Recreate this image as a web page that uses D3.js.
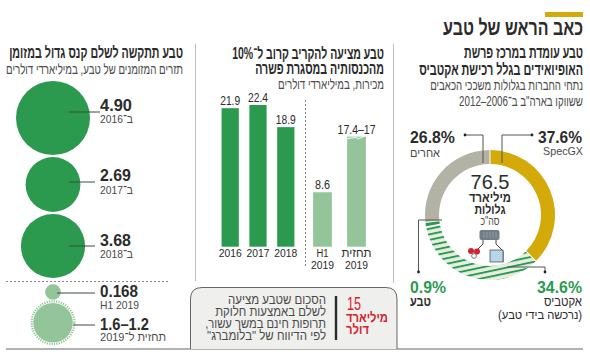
<!DOCTYPE html>
<html lang="he">
<head>
<meta charset="utf-8">
<title>כאב הראש של טבע</title>
<script src="https://d3js.org/d3.v7.min.js"></script>
<style>
  html, body { margin: 0; padding: 0; background: #fff; }
  svg { display: block; }
  text { font-family: "Liberation Sans", "DejaVu Sans", sans-serif; }
</style>
</head>
<body>
<script>
// data
var cashYears = ["ב־2016", "ב־2017", "ב־2018", "H1 2019", "תחזית ל־2019"];
var cashValues = [4.90, 2.69, 3.68, 0.168, 1.4];
var cashLabels = ["4.90", "2.69", "3.68", "0.168", "1.6–1.2"];

var salesCats = ["2016", "2017", "2018", "H1", "תחזית"];
var salesValues = [21.9, 22.4, 18.9, 8.6, 17.4];
var salesLabels = ["21.9", "22.4", "18.9", "8.6", "17.4–17"];
var salesForecastLow = 17;

var shareNames = ["SpecGX", "אקטביס", "טבע", "אחרים"];
var shareValues = [37.6, 34.6, 0.9, 26.8];

var w = 590, h = 352;
var GREEN = "#2b9a4f", LIGHT = "#93c49a", GOLD = "#d4a90a", GRAY = "#b3b3a5", INK = "#2b2b2b", SOFT = "#4a4a4a", LINE = "#bdbdbd", RED = "#d3222f";

var svg = d3.select("body").append("svg").attr("width", w).attr("height", h);

// stripes for the Actavis slice
var defs = svg.append("defs");
var hatch = defs.append("pattern").attr("id", "hatch").attr("patternUnits", "userSpaceOnUse")
    .attr("width", 10).attr("height", 5.4).attr("patternTransform", "rotate(-12)");
hatch.append("rect").attr("width", 10).attr("height", 5.4).attr("fill", "#e6eee2");
hatch.append("rect").attr("width", 10).attr("height", 1.9).attr("fill", GREEN);

// x is the right edge for hebrew text; width squeezes to the narrow look of the original
function label(x, y, str, o) {
    o = o || {};
    var t = svg.append("text")
        .attr("font-size", o.size || 11)
        .attr("font-weight", o.bold ? 700 : 400)
        .attr("fill", o.fill || INK)
        .attr("text-anchor", o.anchor || "end")
        .text(str);
    if (o.rtl !== false) t.attr("direction", "rtl").attr("text-anchor", o.anchor === "middle" ? "middle" : (o.anchor === "start" ? "end" : "start"));
    var sx = o.width ? o.width / t.node().getComputedTextLength() : 1;
    t.attr("transform", "translate(" + x + "," + y + ") scale(" + sx + ",1)");
    return t;
}
function rule(x1, y1, x2, y2, color, width, dash) {
    svg.append("line").attr("x1", x1).attr("y1", y1).attr("x2", x2).attr("y2", y2)
        .attr("stroke", color).attr("stroke-width", width || 1).attr("stroke-dasharray", dash || null);
}

// header
svg.append("rect").attr("x", 545).attr("y", 12).attr("width", 38).attr("height", 5).attr("fill", GOLD);
label(583, 35, "כאב הראש של טבע", {size: 22, bold: true, width: 140});

// separators
rule(393.5, 44, 393.5, 283, LINE, 1);
rule(195.5, 44, 195.5, 281, LINE, 1);
rule(6, 349, 583, 349, "#666", 1);
rule(6, 281.5, 168, 281.5, "#888", 1, "2,2");

// left column: circles
label(183, 58, "טבע תתקשה לשלם קנס גדול במזומן", {size: 16, bold: true, width: 174});
label(183, 74, "תזרים המזומנים של טבע, במיליארדי דולרים", {size: 14, fill: SOFT, width: 177});

var rScale = d3.scaleSqrt().domain([0, 4.9]).range([0, 37]);
var circleY = [118, 184.5, 246, 292, 322.7];
var numY = [111, 181, 246, 297, 330];
var subY = [123, 194, 258, 309, 341];
var lineY = [112, 182, 246, 293, 325];
var lineX = [69, 69, 69, 57, 73];

svg.append("circle").attr("cx", 53).attr("cy", circleY[4]).attr("r", rScale(cashValues[4]) + 1.6)
    .attr("fill", "none").attr("stroke", LIGHT).attr("stroke-width", 2.2).attr("stroke-dasharray", "1.2,1.2");
svg.selectAll("circle.cash").data(cashValues).enter().append("circle")
    .attr("class", "cash")
    .attr("cx", 53)
    .attr("cy", function(d, i) { return circleY[i]; })
    .attr("r", function(d) { return rScale(d) + (d < 1 ? 1 : 0); })
    .attr("fill", function(d, i) { return i < 3 ? GREEN : LIGHT; });

cashValues.forEach(function(d, i) {
    rule(lineX[i], lineY[i], i == 0 ? 100 : 95, lineY[i], "#3a4a40", 1);
    label(100, numY[i], cashLabels[i], {size: 16.5, bold: true, anchor: "start", rtl: false,
        width: [32, 31, 31, 38, 49][i]});
});
label(133, subY[0], cashYears[0], {size: 11.5, fill: SOFT, width: 33});
label(133, subY[1], cashYears[1], {size: 11.5, fill: SOFT, width: 33});
label(133, subY[2], cashYears[2], {size: 11.5, fill: SOFT, width: 33});
label(100, subY[3], cashYears[3], {size: 10.5, fill: SOFT, anchor: "start", rtl: false, width: 39});
label(166, subY[4], cashYears[4], {size: 11.5, fill: SOFT, width: 66});

// middle column: bars
label(384, 59, "טבע מציעה להקריב קרוב ל־10%", {size: 16, bold: true, width: 152});
label(384, 74, "מהכנסותיה במסגרת פשרה", {size: 16, bold: true, width: 129});
label(384, 89, "מכירות, במיליארדי דולרים", {size: 14, fill: SOFT, width: 106});

var x1 = d3.scaleBand().domain(salesCats.slice(0, 3)).range([216, 300]).paddingInner(0.38).paddingOuter(0.2);
var x2 = d3.scaleBand().domain(salesCats.slice(3)).range([307, 372]).paddingInner(0.45).paddingOuter(0.18);
var salesX = function(i) { return i < 3 ? x1(salesCats[i]) : x2(salesCats[i]); };
var bw = function(i) { return i < 3 ? x1.bandwidth() : x2.bandwidth(); };
var yBar = d3.scaleLinear().domain([0, 22.4]).range([246.7, 105]);

svg.selectAll("rect.bar").data(salesValues).enter().append("rect")
    .attr("class", "bar")
    .attr("x", function(d, i) { return salesX(i); })
    .attr("width", function(d, i) { return bw(i); })
    .attr("y", function(d) { return yBar(d); })
    .attr("height", function(d) { return yBar(0) - yBar(d); })
    .attr("fill", function(d, i) { return i < 3 ? GREEN : LIGHT; });

// torn top of the forecast bar, 17.4 down to 17
var fx = salesX(4), fw = bw(4);
svg.append("path")
    .attr("d", d3.line()([[fx, yBar(salesForecastLow) - 0.6], [fx + fw * 0.5, yBar(17.4) + 0.8], [fx + fw * 0.56, yBar(salesForecastLow)], [fx + fw, yBar(17.4) - 1.2]]))
    .attr("fill", "none").attr("stroke", "#fff").attr("stroke-width", 0.9);

salesValues.forEach(function(d, i) {
    label(salesX(i) + bw(i) / 2, yBar(d) - 3, salesLabels[i], {size: 12.5, anchor: "middle", rtl: false,
        width: [20, 20, 20, 15, 38][i]});
    label(salesX(i) + bw(i) / 2, 257, salesCats[i], {size: i == 4 ? 12.5 : 11, anchor: "middle", rtl: i == 4 ? true : false, width: [23, 23, 23, 12, 30][i]});
});
label(salesX(3) + bw(3) / 2, 269, "2019", {size: 11, anchor: "middle", rtl: false, width: 23});
label(salesX(4) + bw(4) / 2, 269, "2019", {size: 11, anchor: "middle", rtl: false, width: 23});
rule(305.5, 100, 305.5, 268, "#888", 1, "2,2");

// note box
svg.append("path").attr("d", "M190.5,349 V299 Q190.5,287.5 202,287.5 H386 Q397,287.5 397,299 V349")
    .attr("fill", "#efefed").attr("stroke", "#666").attr("stroke-width", 1);
rule(336, 296, 336, 340, INK, 2.4);
label(326, 304, "הסכום שטבע מציעה", {size: 13, fill: SOFT, width: 98});
label(326, 316, "לשלם באמצעות חלוקת", {size: 13, fill: SOFT, width: 111});
label(326, 328, "תרופות חינם במשך עשור,", {size: 13, fill: SOFT, width: 121});
label(326, 340, "לפי הדיווח של \"בלומברג\"", {size: 13, fill: SOFT, width: 119});
label(347, 310, "15", {size: 18, fill: RED, anchor: "start", rtl: false, width: 14});
label(388, 321.5, "מיליארד", {size: 13.5, bold: true, fill: RED, width: 42});
label(369, 333.5, "דולר", {size: 13.5, bold: true, fill: RED, width: 23});

// right column: donut
label(583, 58, "טבע עומדת במרכז פרשת", {size: 16, bold: true, width: 119});
label(583, 75, "האופיואידים בגלל רכישת אקטביס", {size: 16, bold: true, width: 164});
label(583, 90, "נתחי החברות בגלולות משככי הכאבים", {size: 14, fill: SOFT, width: 153});
label(583, 106, "ששווקו בארה\"ב ב־2006–2012", {size: 14, fill: SOFT, width: 124});

var cx = 490, cy = 215;
var pie = d3.pie().sort(null).padAngle(0.012)(shareValues);
var arc = d3.arc().innerRadius(51).outerRadius(65);
var sliceFill = [GOLD, "url(#hatch)", GREEN, GRAY];
svg.append("g").attr("transform", "translate(" + cx + "," + cy + ")")
    .selectAll("path").data(pie).enter().append("path")
    .attr("d", arc)
    .attr("fill", function(d, i) { return sliceFill[i]; });

// donut callouts
function callout(points, color) {
    svg.append("path").attr("d", d3.line()(points)).attr("fill", "none").attr("stroke", color || "#555").attr("stroke-width", 1);
    var e = points[points.length - 1];
    svg.append("circle").attr("cx", e[0]).attr("cy", e[1]).attr("r", 1.4).attr("fill", "#222");
}
callout([[483, 163], [483, 135], [465, 135]]);
callout([[502, 163], [502, 135], [532, 135]]);
callout([[442, 220], [418.5, 220], [418.5, 272]]);
callout([[507, 267], [545, 267], [545, 272]]);

label(582, 143, shareValues[0] + "%", {size: 16.5, bold: true, anchor: "end", rtl: false, width: 44});
label(583, 155, shareNames[0], {size: 10.5, fill: SOFT, anchor: "end", rtl: false, width: 40});
label(410, 143, shareValues[3] + "%", {size: 16.5, bold: true, anchor: "start", rtl: false, width: 45});
label(440, 157, shareNames[3], {size: 12.5, fill: SOFT, width: 30});
label(582, 293, shareValues[1] + "%", {size: 16.5, bold: true, fill: GREEN, anchor: "end", rtl: false, width: 45});
label(582, 306, shareNames[1], {size: 13, fill: INK, width: 38});
label(582, 319, "(נרכשה בידי טבע)", {size: 12.5, fill: INK, width: 84});
label(410, 293, shareValues[2] + "%", {size: 16.5, bold: true, fill: GREEN, anchor: "start", rtl: false, width: 36});
label(431, 306, shareNames[2], {size: 13, bold: true, width: 21});

// middle of the donut
label(cx, 189, "76.5", {size: 20, anchor: "middle", rtl: false, width: 39});
label(cx, 202, "מיליארד", {size: 12.5, bold: true, anchor: "middle", width: 42});
label(cx, 213.5, "גלולות", {size: 12.5, bold: true, anchor: "middle", width: 31});
label(cx, 225, "סה\"כ", {size: 12, fill: SOFT, anchor: "middle", width: 19});

// bottle icon
var icon = svg.append("g").attr("fill", "none").attr("stroke", "#444").attr("stroke-width", 1);
icon.append("path").attr("d", "M483,240 V244 L476,251 M496,240 V244 L503,251 V262").attr("stroke", "#444");
icon.append("rect").attr("x", 479.5).attr("y", 230).attr("width", 20).attr("height", 10).attr("rx", 2).attr("fill", "#6f7f88").attr("stroke", "none");
[484, 487, 490, 493, 496].forEach(function(x) { rule(x, 232, x, 238, "#9aa5ab", 0.8); });
svg.append("rect").attr("x", 490).attr("y", 250).attr("width", 13).attr("height", 12).attr("fill", "#b7d6e8").attr("stroke", "#444").attr("stroke-width", 0.7);
svg.append("circle").attr("cx", 471).attr("cy", 251).attr("r", 3).attr("fill", RED);
svg.append("circle").attr("cx", 477).attr("cy", 251.5).attr("r", 3).attr("fill", RED);
svg.append("circle").attr("cx", 474).attr("cy", 256).attr("r", 2.4).attr("fill", "#fff").attr("stroke", "#444").attr("stroke-width", 0.7);
</script>
</body>
</html>
